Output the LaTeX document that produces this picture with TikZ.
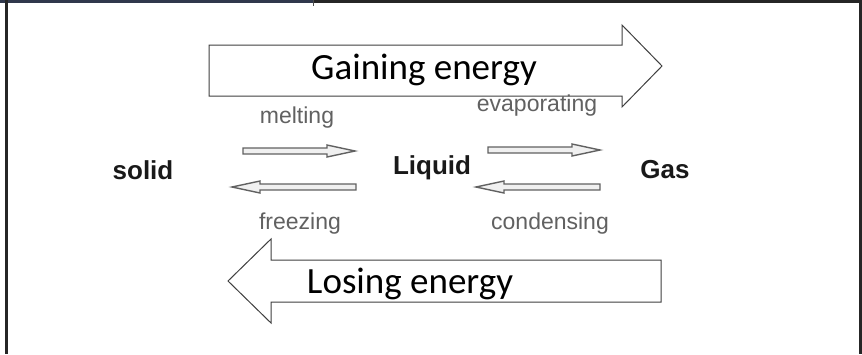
\documentclass[tikz,border=0pt]{standalone}
\usepackage{fontspec}
\setmainfont{Liberation Sans}
\newfontfamily\calib{Carlito}
\definecolor{slate}{RGB}{48,56,76}
\begin{document}
\begin{tikzpicture}[x=1pt,y=-1pt,
  frame/.style={line width=3pt,draw=black!85},
  bigarrow/.style={draw=black!75,line width=1pt,fill=white},
  smallarrow/.style={draw=black!62,line width=1.4pt,fill=black!6,line join=miter},
  phase/.style={font=\fontsize{26}{28}\selectfont\bfseries,text=black!90,inner sep=0pt},
  change/.style={font=\fontsize{23}{26}\selectfont,text=black!62,inner sep=0pt},
  energy/.style={font=\calib\fontsize{37}{40}\selectfont,text=black,inner sep=0pt}]
\useasboundingbox (0,0) rectangle (862,354);
\fill[white] (0,0) rectangle (862,354);

% outer frame
\draw[frame] (313,1.5) -- (862,1.5);
\draw[line width=3pt,draw=slate] (0,1.5) -- (313,1.5);
\draw[line width=1pt,draw=black!70] (313,0) -- (313,6);
\draw[frame] (6,0) -- (6,354);
\draw[frame] (860,0) -- (860,354);

% gaining energy arrow
\draw[bigarrow] (209,45) -- (622,45) -- (622,25) -- (662,66) -- (622,107)
  -- (622,96) -- (209,96) -- cycle;
\node[energy,anchor=base] (gain) at (424,79) {Gaining energy};

% losing energy arrow
\draw[bigarrow] (661,260) -- (271,260) -- (271,239) -- (228,281) -- (271,323)
  -- (271,302) -- (661,302) -- cycle;
\node[energy,anchor=base] (lose) at (410,293) {Losing energy};

% phases
\node[phase] (solid) at (143,170) {solid};
\node[phase] (liquid) at (432,168) {Liquid};
\node[phase] (gas) at (665,170) {Gas};

% process labels
\node[change] (melt) at (297,118) {melting};
\node[change] (freeze) at (300,224) {freezing};
\node[change] (evap) at (537,106) {evaporating};
\node[change] (cond) at (550,224) {condensing};

% small hollow arrows between the phases
\coordinate (m1) at (243,151); \coordinate (m2) at (355,151);
\coordinate (f1) at (356,187); \coordinate (f2) at (232,187);
\coordinate (e1) at (488,150); \coordinate (e2) at (600,150);
\coordinate (c1) at (600,187); \coordinate (c2) at (476,187);

\draw[smallarrow] ([yshift=-3]m1) -- ([xshift=-28,yshift=-3]m2) -- ([xshift=-28,yshift=-6]m2)
  -- (m2) -- ([xshift=-28,yshift=6]m2) -- ([xshift=-28,yshift=3]m2) -- ([yshift=3]m1) -- cycle;
\draw[smallarrow] ([yshift=-3]e1) -- ([xshift=-28,yshift=-3]e2) -- ([xshift=-28,yshift=-6]e2)
  -- (e2) -- ([xshift=-28,yshift=6]e2) -- ([xshift=-28,yshift=3]e2) -- ([yshift=3]e1) -- cycle;
\draw[smallarrow] ([yshift=-3]f1) -- ([xshift=28,yshift=-3]f2) -- ([xshift=28,yshift=-6]f2)
  -- (f2) -- ([xshift=28,yshift=6]f2) -- ([xshift=28,yshift=3]f2) -- ([yshift=3]f1) -- cycle;
\draw[smallarrow] ([yshift=-3]c1) -- ([xshift=28,yshift=-3]c2) -- ([xshift=28,yshift=-6]c2)
  -- (c2) -- ([xshift=28,yshift=6]c2) -- ([xshift=28,yshift=3]c2) -- ([yshift=3]c1) -- cycle;
\end{tikzpicture}
\end{document}
